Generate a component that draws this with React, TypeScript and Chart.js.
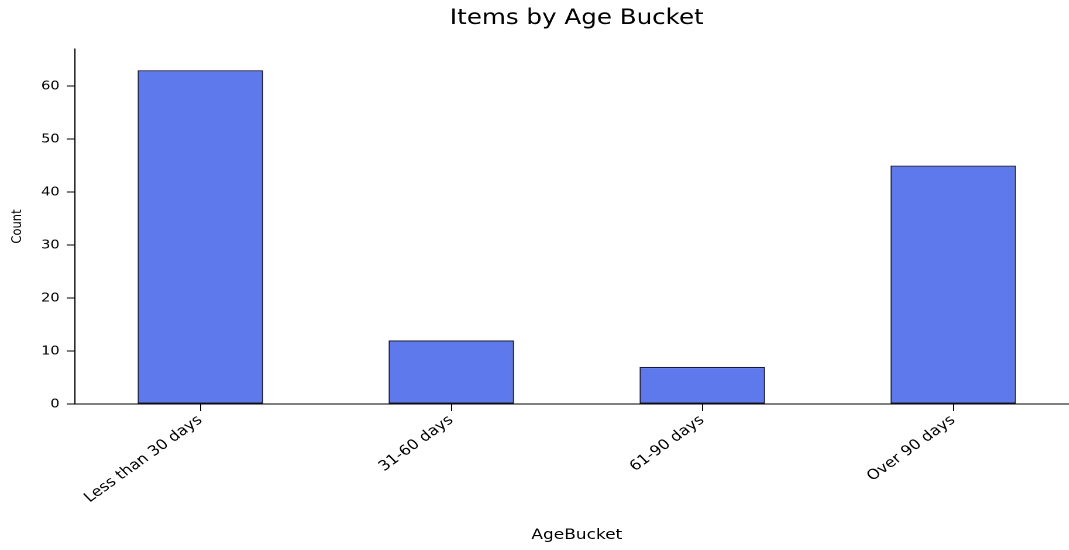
import React, { useEffect, useRef } from 'react';
import { Chart, registerables } from 'chart.js';

Chart.register(...registerables);

const categories = ['Less than 30 days', '31-60 days', '61-90 days', 'Over 90 days'];
const counts = [63, 12, 7, 45];
const yTicks = [0, 10, 20, 30, 40, 50, 60];
const yMax = 67;
const chartTitle = 'Items by Age Bucket';
const xTitle = 'AgeBucket';
const yTitle = 'Count';

const SX = 1.17;
const CW = 935;
const CH = 550;
const FONT = "'DejaVu Sans', 'Liberation Sans', sans-serif";

export default function App() {
  const ref = useRef<HTMLCanvasElement | null>(null);

  useEffect(() => {
    if (!ref.current) return;
    const chart = new Chart(ref.current, {
      type: 'bar',
      data: {
        labels: categories,
        datasets: [
          {
            label: 'Count',
            data: counts,
            backgroundColor: '#5d79eb',
            borderColor: '#15183a',
            borderWidth: 1.2,
            borderSkipped: false,
            categoryPercentage: 1,
            barPercentage: 0.5,
          },
        ],
      },
      options: {
        responsive: false,
        animation: false,
        devicePixelRatio: 2,
        layout: { padding: { left: 0, right: 13, top: 0, bottom: 0 } },
        plugins: {
          legend: { display: false },
          tooltip: { enabled: false },
          title: {
            display: true,
            text: chartTitle,
            fullSize: false,
            color: '#000',
            font: { family: FONT, size: 21, weight: 'normal' },
            padding: { top: 6, bottom: 17.8 },
          },
        },
        scales: {
          x: {
            type: 'category',
            offset: true,
            grid: {
              display: true,
              drawOnChartArea: false,
              drawTicks: true,
              tickLength: 7,
              offset: false,
              color: '#000',
            },
            border: { display: true, color: '#000', width: 1 },
            ticks: {
              minRotation: 40,
              maxRotation: 40,
              autoSkip: false,
              padding: 1,
              color: '#000',
              font: { family: FONT, size: 14 },
            },
            title: {
              display: true,
              text: xTitle,
              color: '#000',
              font: { family: FONT, size: 14.5 },
              padding: { top: 0, bottom: 6 },
            },
            afterFit: (s: any) => {
              s.height = 146;
            },
          },
          y: {
            min: 0,
            max: yMax,
            afterBuildTicks: (s: any) => {
              s.ticks = yTicks.map((v) => ({ value: v }));
            },
            grid: {
              display: true,
              drawOnChartArea: false,
              drawTicks: true,
              tickLength: 7,
              color: '#000',
            },
            border: { display: true, color: '#000', width: 1 },
            ticks: {
              padding: 6,
              color: '#000',
              font: { family: FONT, size: 12.5 },
            },
            title: {
              display: true,
              text: yTitle,
              color: '#000',
              font: { family: FONT, size: 11.5 },
              padding: { top: 8, bottom: 0 },
            },
            afterFit: (s: any) => {
              s.width = 64;
            },
          },
        },
      },
    });
    return () => chart.destroy();
  }, []);

  return (
    <div
      style={{
        position: 'fixed',
        left: 0,
        top: 0,
        width: 1069,
        height: 550,
        overflow: 'hidden',
        background: '#fff',
      }}
    >
      <div style={{ transform: `scaleX(${SX})`, transformOrigin: '0 0', width: CW, height: CH }}>
        <canvas ref={ref} width={CW} height={CH} style={{ width: CW + 'px', height: CH + 'px', display: 'block' }} />
      </div>
    </div>
  );
}
